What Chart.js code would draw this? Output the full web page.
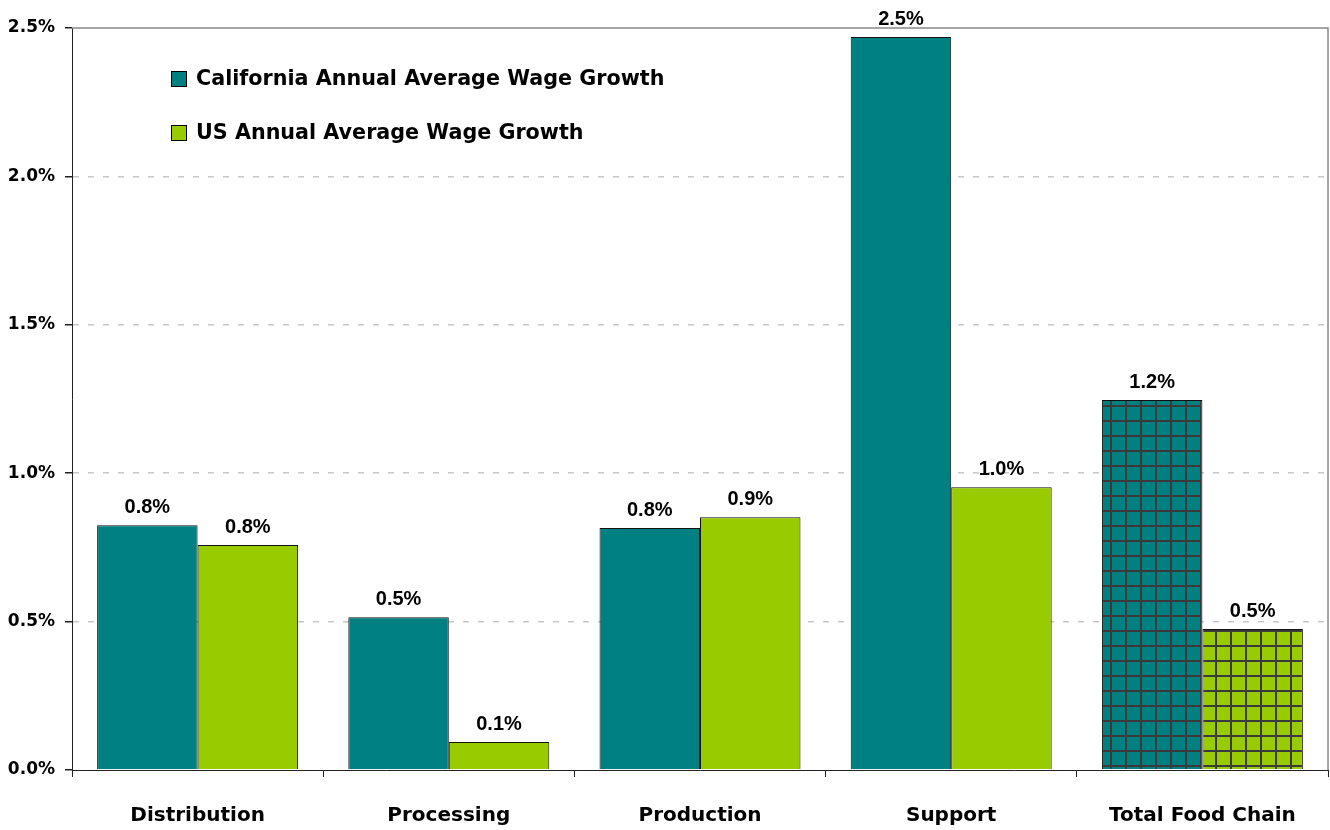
<!DOCTYPE html>
<html>
<head>
<meta charset="utf-8">
<script src="https://cdn.jsdelivr.net/npm/chart.js@4/dist/chart.umd.min.js"></script>
<style>
  html, body { margin: 0; padding: 0; background: #fff; }
  #wrap { width: 1330px; height: 830px; }
</style>
</head>
<body>
<div id="wrap"><canvas id="myChart" width="1330" height="830"></canvas></div>
<script>
var categories = ["Distribution", "Processing", "Production", "Support", "Total Food Chain"];
var seriesNames = ["California Annual Average Wage Growth", "US Annual Average Wage Growth"];
var caGrowth = [0.825, 0.515, 0.815, 2.47, 1.247];
var usGrowth = [0.758, 0.094, 0.852, 0.953, 0.475];
var yTicks = [0, 0.5, 1.0, 1.5, 2.0, 2.5];

var TEAL = '#008080';
var LIME = '#99cc00';
var labelFont = "'DejaVu Sans', sans-serif";

// cross-hatched fill used for the total column
function hatch(color) {
  var c = document.createElement('canvas');
  c.width = 15; c.height = 15;
  var g = c.getContext('2d');
  g.fillStyle = color;
  g.fillRect(0, 0, 15, 15);
  g.fillStyle = '#3a3a3a';
  g.fillRect(0, 0, 2, 15);
  g.fillRect(0, 0, 15, 2);
  return g.createPattern(c, 'repeat');
}

function fills(color) {
  return categories.map(function(cat, i) {
    return i === categories.length - 1 ? hatch(color) : color;
  });
}

var valueLabels = {
  id: 'valueLabels',
  afterDatasetsDraw: function(chart) {
    var ctx = chart.ctx;
    ctx.save();
    ctx.font = "bold 20px 'Liberation Sans', Arial, sans-serif";
    ctx.fillStyle = '#000';
    ctx.textAlign = 'center';
    ctx.textBaseline = 'alphabetic';
    chart.data.datasets.forEach(function(ds, di) {
      chart.getDatasetMeta(di).data.forEach(function(bar, i) {
        ctx.fillText(ds.data[i].toFixed(1) + '%', bar.x, bar.y - 12);
      });
    });
    ctx.restore();
  }
};

var frame = {
  id: 'frame',
  afterDraw: function(chart) {
    var a = chart.chartArea, ctx = chart.ctx;
    ctx.save();
    ctx.strokeStyle = '#888';
    ctx.lineWidth = 1.5;
    ctx.beginPath();
    ctx.moveTo(a.left, a.top);
    ctx.lineTo(a.right, a.top);
    ctx.lineTo(a.right, a.bottom);
    ctx.stroke();
    ctx.restore();
  }
};

var boxLegend = {
  id: 'boxLegend',
  afterDraw: function(chart) {
    var ctx = chart.ctx;
    ctx.save();
    ctx.font = "bold 20.7px " + labelFont;
    ctx.textBaseline = 'middle';
    chart.data.datasets.forEach(function(ds, i) {
      var y = 79 + i * 54;
      ctx.fillStyle = ds.legendColor;
      ctx.fillRect(171, y - 8, 16, 16);
      ctx.strokeStyle = '#000';
      ctx.lineWidth = 1;
      ctx.strokeRect(171.5, y - 7.5, 15, 15);
      ctx.fillStyle = '#000';
      ctx.fillText(ds.label, 196, y + 1);
    });
    ctx.restore();
  }
};

var ctx = document.getElementById('myChart');
new Chart(ctx, {
  type: 'bar',
  data: {
    labels: categories,
    datasets: [{
      label: seriesNames[0],
      data: caGrowth,
      backgroundColor: fills(TEAL),
      legendColor: TEAL,
      borderColor: '#111',
      borderWidth: 1,
      barPercentage: 1.0,
      categoryPercentage: 0.8
    }, {
      label: seriesNames[1],
      data: usGrowth,
      backgroundColor: fills(LIME),
      legendColor: LIME,
      borderColor: '#111',
      borderWidth: 1,
      barPercentage: 1.0,
      categoryPercentage: 0.8
    }]
  },
  options: {
    responsive: false,
    animation: false,
    layout: { padding: { top: 28, right: 2, left: 0, bottom: 0 } },
    plugins: {
      legend: { display: false },
      tooltip: { enabled: false }
    },
    scales: {
      x: {
        grid: { offset: true, drawOnChartArea: false, tickLength: 7, tickColor: '#222' },
        border: { color: '#222', width: 1 },
        ticks: {
          color: '#000',
          padding: 27,
          font: { family: labelFont, size: 20, weight: 'bold' }
        },
        afterFit: function(scale) { scale.height = 60; }
      },
      y: {
        min: 0,
        max: 2.5,
        afterBuildTicks: function(scale) {
          scale.ticks = yTicks.map(function(v) { return { value: v }; });
        },
        grid: {
          // baseline and top edge are drawn solid elsewhere
          color: function(c) {
            return (c.tick && (c.tick.value === 0 || c.tick.value === 2.5)) ? 'rgba(0,0,0,0)' : '#c8c8c8';
          },
          lineWidth: 1.5,
          tickLength: 7,
          tickColor: '#222',
          tickBorderDash: []
        },
        border: { color: '#222', width: 1, dash: [6, 9] },
        ticks: {
          color: '#000',
          padding: 10,
          font: { family: labelFont, size: 17, weight: 'bold' },
          callback: function(v) { return v.toFixed(1) + '%'; }
        },
        afterFit: function(scale) { scale.width = 72; }
      }
    }
  },
  plugins: [valueLabels, frame, boxLegend]
});
</script>
</body>
</html>
